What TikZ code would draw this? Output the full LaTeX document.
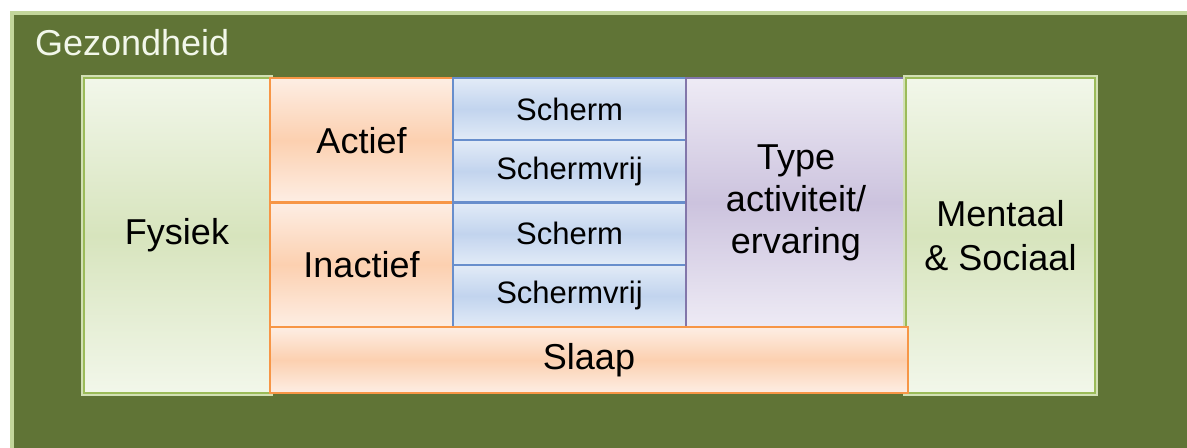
\documentclass[tikz,border=0pt]{standalone}
\usepackage{fontspec}
\setmainfont{Liberation Sans}
\usetikzlibrary{positioning}
\definecolor{olijf}{RGB}{96,116,54}
\definecolor{olijfrand}{RGB}{195,214,155}
\definecolor{groenrand}{RGB}{155,187,89}
\definecolor{groenlicht}{RGB}{242,247,234}
\definecolor{groenmidden}{RGB}{215,228,189}
\definecolor{oranjerand}{RGB}{247,150,70}
\definecolor{perziklicht}{RGB}{253,238,228}
\definecolor{perzikmidden}{RGB}{252,208,176}
\definecolor{blauwrand}{RGB}{104,142,204}
\definecolor{blauwlicht}{RGB}{226,235,247}
\definecolor{blauwmidden}{RGB}{194,212,238}
\definecolor{paarsrand}{RGB}{130,118,170}
\definecolor{paarslicht}{RGB}{238,235,245}
\definecolor{paarsmidden}{RGB}{204,195,222}
\begin{document}
\begin{tikzpicture}[every node/.style={outer sep=0pt, inner sep=2pt, align=center, font=\fontsize{18}{21}\selectfont},
	vak/.style={line width=1.2pt, anchor=north west},
	groenvak/.style={vak, draw=groenrand, top color=groenlicht, bottom color=groenlicht, middle color=groenmidden, preaction={draw=groenrand!45, line width=3pt}},
	perzikvak/.style={vak, draw=oranjerand, top color=perziklicht, bottom color=perziklicht, middle color=perzikmidden},
	blauwvak/.style={vak, draw=blauwrand, top color=blauwlicht, bottom color=blauwlicht, middle color=blauwmidden, minimum width=116.5pt, minimum height=31.125pt, font=\fontsize{15.5}{18}\selectfont},
	paarsvak/.style={vak, draw=paarsrand, top color=paarslicht, bottom color=paarslicht, middle color=paarsmidden}]
			\fill[white] (0,0) rectangle (593.5pt,-224pt);
			\clip (0,0) rectangle (593.5pt,-224pt);
			\draw[olijfrand, line width=2pt, fill=olijf] (6pt,-6.5pt) rectangle (605pt,-235pt);
			\node[anchor=west, inner sep=0pt, text=groenlicht] (gezondheid) at (17.5pt,-21.5pt) {Gezondheid};
			
			\node[groenvak, minimum width=93pt, minimum height=157.5pt] (fysiek) at (42pt,-39pt) {Fysiek};
			\node[perzikvak, minimum width=91.5pt, minimum height=62.25pt, right = 0pt of fysiek.north east, anchor=north west] (actief) {Actief};
			\node[perzikvak, minimum width=91.5pt, minimum height=62.25pt, below = 0pt of actief, anchor=north] (inactief) {Inactief};
			
			\node[blauwvak, right = 0pt of actief.north east, anchor=north west] (scherm1) {Scherm};
			\node[blauwvak, below = 0pt of scherm1, anchor=north] (vrij1) {Schermvrij};
			\node[blauwvak, below = 0pt of vrij1, anchor=north] (scherm2) {Scherm};
			\node[blauwvak, below = 0pt of scherm2, anchor=north] (vrij2) {Schermvrij};
			
			\node[paarsvak, minimum width=110pt, minimum height=124.5pt, right = 0pt of scherm1.north east, anchor=north west] (type) {Type\\activiteit/\\ervaring};
			\node[groenvak, minimum width=94.5pt, minimum height=157.5pt, font=\fontsize{18}{22}\selectfont, right = 0pt of type.north east, anchor=north west] (mentaal) {Mentaal\\\& Sociaal};
			\node[perzikvak, minimum width=319pt, minimum height=33pt, below = 0pt of inactief.south west, anchor=north west] (slaap) {Slaap};
			\end{tikzpicture}
\end{document}
